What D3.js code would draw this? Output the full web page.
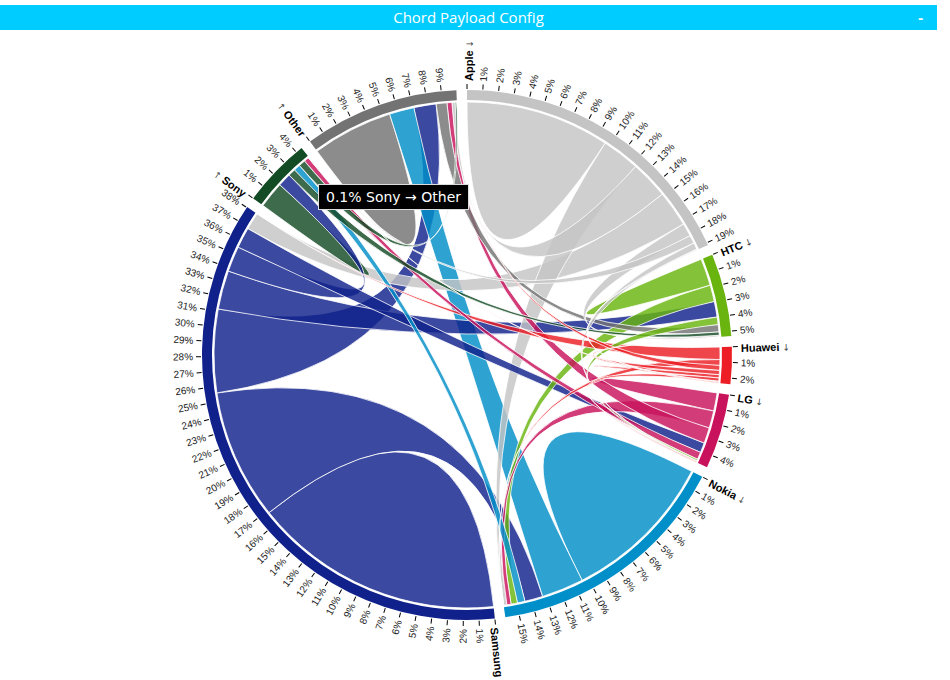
<!DOCTYPE html>
<html>
<head>
<meta charset="utf-8">
<script src="https://cdn.jsdelivr.net/npm/d3@7"></script>
<style>
  html, body { margin: 0; padding: 0; background: #fff; }
  body { width: 950px; height: 680px; overflow: hidden; position: relative; }
  #bar { position: absolute; left: 0; top: 5px; width: 937px; height: 25px; background: #00CCFF;
         color: #fff; font-family: "Open Sans", sans-serif; font-size: 15px; line-height: 25px; text-align: center; }
  #bar .min { position: absolute; right: 14px; top: 0; font-weight: bold; }
  #tip { position: absolute; left: 318px; top: 184px; background: #000; color: #fff;
         border: 1px solid #ddd; font-family: "DejaVu Sans", sans-serif; font-size: 14px;
         padding: 4px 7px; white-space: nowrap; line-height: 16px; }
  svg { position: absolute; left: 0; top: 0; }
</style>
</head>
<body>
<div id="bar">Chord Payload Config<span class="min">-</span></div>
<svg id="chart" width="950" height="680"></svg>
<div id="tip"></div>
<script>
// ---- data ----
const names  = ["Apple", "HTC", "Huawei", "LG", "Nokia", "Samsung", "Sony", "Other"];
const colors = ["#C4C4C4", "#69B40F", "#EC1D25", "#C8125C", "#008FC8", "#10218B", "#134B24", "#737373"];
// brand switching shares (% of all users), row = from brand, column = to brand
const appleRow   = [9.6899, 0.8859, 0.0554, 0.4430, 2.5471, 2.4363, 0.5537, 2.5471];
const htcRow     = [0.1107, 1.8272, 0.0000, 0.4983, 1.1074, 1.0520, 0.2215, 0.4983];
const huaweiRow  = [0.0554, 0.2769, 0.2215, 0.2215, 0.3876, 0.8306, 0.0554, 0.3322];
const lgRow      = [0.0554, 0.1107, 0.0554, 1.2182, 1.1628, 0.6645, 0.4983, 1.0520];
const nokiaRow   = [0.2215, 0.4430, 0.0000, 0.2769, 10.4097, 1.2182, 0.4983, 2.8239];
const samsungRow = [1.1628, 2.6024, 0.0000, 1.3843, 8.7486, 16.8328, 1.7165, 5.5925];
const sonyRow    = [0.0554, 0.4983, 0.0000, 0.3322, 0.4430, 0.8859, 1.7719, 0.4430];
const otherRow   = [0.2215, 0.7198, 0.0000, 0.3322, 1.6611, 1.4950, 0.1107, 5.4264];
const tooltipText = "0.1% Sony \u2192 Other";

const matrix = [appleRow, htcRow, huaweiRow, lgRow, nokiaRow, samsungRow, sonyRow, otherRow];

// ---- layout ----
const cx = 467, cy = 355;
const outerR = 265, innerR = 255, ribbonR = 253;

const svg = d3.select("#chart");
const g = svg.append("g").attr("transform", `translate(${cx},${cy})`);

const chord = d3.chord()
  .padAngle(0.04)
  .sortSubgroups(d3.descending)
  .sortChords(d3.descending);
const chords = chord(matrix);

const arc = d3.arc().innerRadius(innerR).outerRadius(outerR);
const ribbon = d3.ribbon().radius(ribbonR);

// ribbons
g.append("g").selectAll("path")
  .data(chords)
  .join("path")
  .attr("d", ribbon)
  .attr("fill", d => colors[d.source.index])
  .attr("fill-opacity", 0.82)
  .attr("stroke", "#fff")
  .attr("stroke-width", 0.8);

// group arcs
const group = g.append("g").selectAll("g")
  .data(chords.groups)
  .join("g");

group.append("path")
  .attr("d", arc)
  .attr("fill", d => colors[d.index]);

// ticks every 1%
function groupTicks(d) {
  const k = (d.endAngle - d.startAngle) / d.value;
  return d3.range(0, d.value, 1).map(v => ({ value: v, angle: v * k + d.startAngle, index: d.index }));
}

const tick = group.selectAll(".tick")
  .data(groupTicks)
  .join("g")
  .attr("class", "tick")
  .attr("transform", d => `rotate(${d.angle * 180 / Math.PI - 90}) translate(${outerR},0)`);

tick.append("line")
  .attr("x1", 1).attr("x2", 6)
  .attr("stroke", "#000").attr("stroke-width", 1);

const label = tick.append("text")
  .attr("x", d => d.angle > Math.PI ? -9 : 9)
  .attr("dy", "0.35em")
  .attr("transform", d => d.angle > Math.PI ? "rotate(180)" : null)
  .attr("text-anchor", d => d.angle > Math.PI ? "end" : "start")
  .style("font-family", "'Liberation Sans', Arial, sans-serif");

label.each(function(d) {
  const t = d3.select(this);
  if (d.value === 0) {
    const flip = d.angle > Math.PI;
    const arrowStyle = s => s.attr("font-size", 9).attr("fill", "#444")
      .style("font-family", "'DejaVu Sans', sans-serif");
    if (flip) {
      t.append("tspan").call(arrowStyle).text("\u2191 ");
      t.append("tspan").attr("font-size", 11).attr("font-weight", "bold").attr("fill", "#000").text(names[d.index]);
    } else {
      t.append("tspan").attr("font-size", 11).attr("font-weight", "bold").attr("fill", "#000").text(names[d.index]);
      t.append("tspan").call(arrowStyle).text(" \u2193");
    }
  } else {
    t.attr("font-size", 10).attr("fill", "#222").text(d.value + "%");
  }
});

d3.select("#tip").text(tooltipText);
</script>
</body>
</html>
